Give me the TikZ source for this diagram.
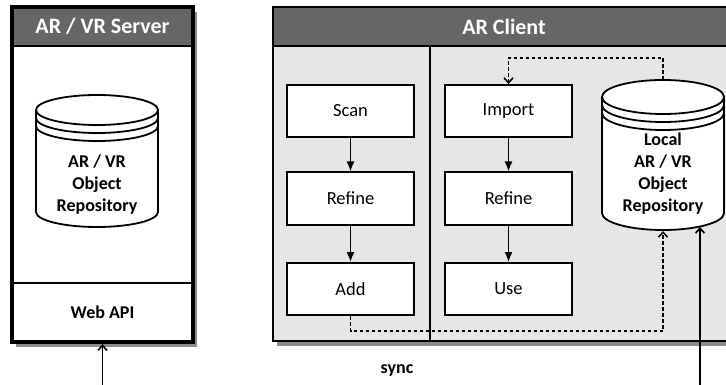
\documentclass[tikz,border=0pt]{standalone}
\usepackage{fontspec}
\setmainfont{Carlito}
\usetikzlibrary{arrows.meta,shadows}

\definecolor{titlegray}{HTML}{666666}
\definecolor{clientgray}{HTML}{E6E6E6}

% repository cylinder: centre x, top y, bottom y, y radius
\newcommand{\repocyl}[4]{
\draw[line width=1.8pt,fill=white] (#1-61,#2) -- (#1-61,#3) arc[start angle=180,end angle=0,x radius=61,y radius=#4] -- (#1+61,#2);
\draw[line width=1.8pt,fill=white] (#1,#2) ellipse[x radius=61,y radius=#4];
\draw[line width=1.8pt] (#1-61,#2+8) arc[start angle=180,end angle=0,x radius=61,y radius=#4];
\draw[line width=1.8pt] (#1-61,#2+16) arc[start angle=180,end angle=0,x radius=61,y radius=#4];
}

\begin{document}
\begin{tikzpicture}[x=1pt,y=-1pt,
  procbox/.style={draw,line width=2pt,fill=white,minimum width=127pt,minimum height=52pt,font=\fontsize{18.5}{21}\selectfont},
  boldlabel/.style={font=\bfseries\fontsize{18}{22}\selectfont,align=center},
  titlelabel/.style={text=white,font=\bfseries\fontsize{22}{25}\selectfont},
  flow/.style={line width=1.6pt,-{Latex[length=10pt,width=8pt]}},
  syncline/.style={line width=1.6pt,dash pattern=on 3.5pt off 2.5pt,-{Straight Barb[length=5pt,width=9pt]}},
  feed/.style={line width=1.6pt,-{Straight Barb[length=5pt,width=9pt]}}]

\useasboundingbox (0,0) rectangle (726,385);
\path[clip] (0,0) rectangle (726,385);

% AR / VR server
\draw[line width=3.5pt,fill=white,drop shadow={shadow xshift=4pt,shadow yshift=-5pt,fill=black,opacity=0.45}] (12,7) rectangle (193,342);
\fill[titlegray] (12,7) rectangle (193,46);
\draw[line width=2pt] (12,46) -- (193,46) (12,283) -- (193,283);
\draw[line width=3.5pt] (12,7) rectangle (193,342);
\node[titlelabel] (servertitle) at (102.5,26.5) {AR / VR Server};
\node[boldlabel,minimum width=181pt,minimum height=59pt] (webapi) at (102.5,312.5) {Web API};

\repocyl{97}{110}{212}{15}
\node[boldlabel] (serverrepo) at (97,185) {AR / VR\\Object\\Repository};

% AR client
\draw[line width=2.5pt,fill=clientgray,drop shadow={shadow xshift=4pt,shadow yshift=-5pt,fill=black,opacity=0.45}] (273,7) rectangle (735,341);
\fill[titlegray] (273,7) rectangle (735,46);
\draw[line width=1.5pt] (273,46) -- (735,46) (430,46) -- (430,341);
\draw[line width=2.5pt] (273,7) rectangle (735,341);
\node[titlelabel] (clienttitle) at (504,26.5) {AR Client};

\node[procbox] (scan) at (350.5,111) {Scan};
\node[procbox] (refineA) at (350.5,198.5) {Refine};
\node[procbox] (add) at (350.5,289) {Add};
\node[procbox] (import) at (508.5,111) {Import};
\node[procbox] (refineB) at (508.5,198.5) {Refine};
\node[procbox] (use) at (508.5,289) {Use};

\draw[flow] (scan) -- (refineA);
\draw[flow] (refineA) -- (add);
\draw[flow] (import) -- (refineB);
\draw[flow] (refineB) -- (use);

\repocyl{663}{97}{213}{17}
\node[boldlabel] (localrepo) at (663,173.5) {Local\\AR / VR\\Object\\Repository};

\coordinate (localtop) at (663,80);
\coordinate (localbot) at (663,231);
\coordinate (localin) at (700,227);
\coordinate (clientfeed) at (700,386);
\coordinate (serverfeed) at (102.5,386);

\draw[syncline] (localtop) -- ++(0,-22) -| (import.north);
\draw[syncline] (add.south) -- ++(0,15) -| (localbot);
\draw[feed] (clientfeed) -- (localin);
\draw[feed,shorten >=2pt] (serverfeed) -- (webapi.south);

\node[boldlabel] (sync) at (397,370) {sync};
\end{tikzpicture}
\end{document}
